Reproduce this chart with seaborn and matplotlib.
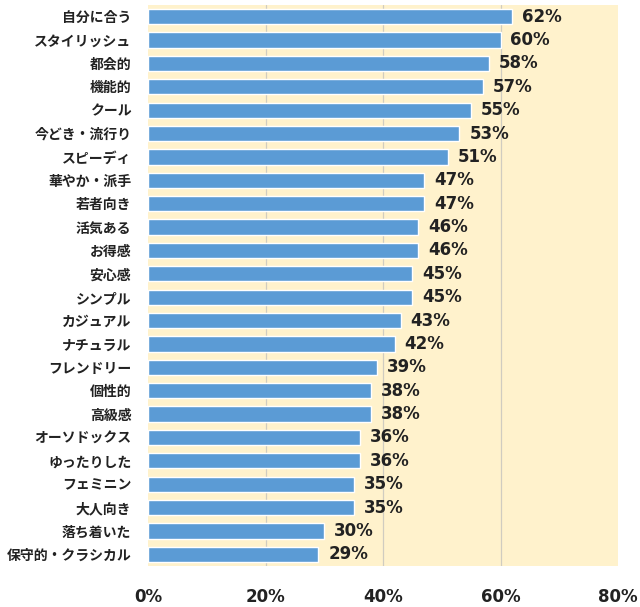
import matplotlib
matplotlib.use("Agg")
import matplotlib.pyplot as plt
import seaborn as sns
import pandas as pd

categories = ["自分に合う", "スタイリッシュ", "都会的", "機能的", "クール", "今どき・流行り",
              "スピーディ", "華やか・派手", "若者向き", "活気ある", "お得感", "安心感",
              "シンプル", "カジュアル", "ナチュラル", "フレンドリー", "個性的", "高級感",
              "オーソドックス", "ゆったりした", "フェミニン", "大人向き", "落ち着いた", "保守的・クラシカル"]
values = [62, 60, 58, 57, 55, 53, 51, 47, 47, 46, 46, 45, 45, 43, 42, 39, 38, 38, 36, 36, 35, 35, 30, 29]
xticks = [0, 20, 40, 60, 80]
xtick_labels = ["0%", "20%", "40%", "60%", "80%"]

sns.set_theme(style="white")
plt.rcParams['font.family'] = ['Noto Sans CJK JP', 'DejaVu Sans']

df = pd.DataFrame({"cat": categories, "val": values})

fig = plt.figure(figsize=(6.4, 6.07), dpi=100)
ax = fig.add_axes([148/640, 1 - 566/607, 470/640, 561/607])
ax.set_facecolor("#FFF2CC")

sns.barplot(data=df, x="val", y="cat", orient="h", color="#5B9BD5", saturation=1,
            width=0.65, ax=ax, zorder=3)

ax.set_xlim(0, 80)
ax.set_ylim(len(categories) - 0.5, -0.5)
ax.set_xticks(xticks)
ax.set_xticklabels(xtick_labels, fontfamily="DejaVu Sans", fontweight="bold", fontsize=12, color="#222222")
ax.tick_params(axis="x", length=0, pad=16)
ax.tick_params(axis="y", length=0, pad=12)
for lbl in ax.get_yticklabels():
    lbl.set_fontweight("bold")
    lbl.set_fontsize(10)
    lbl.set_color("#222222")
ax.set_xlabel("")
ax.set_ylabel("")
for x in [20, 40, 60]:
    ax.axvline(x, color="#D0CCC0", linewidth=0.9, zorder=1)
for s in ax.spines.values():
    s.set_visible(False)

for i, v in enumerate(values):
    ax.text(v + 1.7, i, f"{v}%", va="center", ha="left", fontfamily="DejaVu Sans",
            fontweight="bold", fontsize=12, color="#222222", zorder=4)

fig.savefig("out.png", dpi=100, facecolor="white")
